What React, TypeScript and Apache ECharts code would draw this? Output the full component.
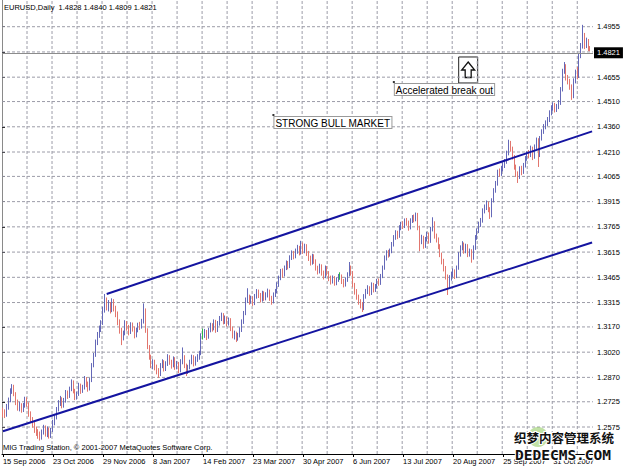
import React, { useEffect, useRef } from 'react';
import * as echarts from 'echarts';

const symbolTitle = 'EURUSD,Daily';
const lastBarValues = ['1.4828', '1.4840', '1.4809', '1.4821'];
const currentPrice = 1.4821;
const copyrightText = 'MIG Trading Station, \u00a9 2001-2007 MetaQuotes Software Corp.';

const xTickLabels = [
  '15 Sep 2006', '23 Oct 2006', '29 Nov 2006', '8 Jan 2007', '14 Feb 2007', '23 Mar 2007',
  '30 Apr 2007', '6 Jun 2007', '13 Jul 2007', '20 Aug 2007', '25 Sep 2007', '31 Oct 2007',
];
const barsPerXLabel = 27;
const barsPerVGrid = 13.5;
const totalSlots = 319;

const yTickValues = [
  1.2575, 1.2725, 1.287, 1.302, 1.317, 1.3315, 1.3465, 1.3615, 1.3765, 1.3915,
  1.4065, 1.421, 1.436, 1.451, 1.4655, 1.4805, 1.4955,
];
const yTickLabels = [
  '1.2575', '1.2725', '1.2870', '1.3020', '1.3170', '1.3315', '1.3465', '1.3615', '1.3765', '1.3915',
  '1.4065', '1.4210', '1.4360', '1.4510', '1.4655', '', '1.4955',
];
const yMin = 1.24145;
const yMax = 1.51138;

// [open, close, low, high] per daily bar
const ohlc: number[][] = [
  [1.2680, 1.2660, 1.2632, 1.2690], [1.2660, 1.2645, 1.2628, 1.2680], [1.2645, 1.2690, 1.2636, 1.2712],
  [1.2690, 1.2735, 1.2678, 1.2750], [1.2735, 1.2790, 1.2722, 1.2805], [1.2790, 1.2815, 1.2772, 1.2830],
  [1.2815, 1.2770, 1.2758, 1.2826], [1.2770, 1.2720, 1.2705, 1.2782], [1.2720, 1.2690, 1.2672, 1.2738],
  [1.2690, 1.2705, 1.2668, 1.2725], [1.2705, 1.2680, 1.2660, 1.2716], [1.2680, 1.2700, 1.2664, 1.2718],
  [1.2700, 1.2740, 1.2690, 1.2755], [1.2740, 1.2710, 1.2695, 1.2752], [1.2710, 1.2650, 1.2636, 1.2722],
  [1.2650, 1.2620, 1.2602, 1.2668], [1.2620, 1.2590, 1.2571, 1.2634], [1.2590, 1.2560, 1.2540, 1.2605],
  [1.2560, 1.2540, 1.2522, 1.2578], [1.2540, 1.2520, 1.2505, 1.2562], [1.2520, 1.2510, 1.2494, 1.2548],
  [1.2510, 1.2545, 1.2500, 1.2560], [1.2545, 1.2570, 1.2530, 1.2588], [1.2570, 1.2530, 1.2518, 1.2584],
  [1.2530, 1.2560, 1.2515, 1.2578], [1.2560, 1.2520, 1.2506, 1.2572], [1.2520, 1.2555, 1.2510, 1.2570],
  [1.2555, 1.2600, 1.2545, 1.2618], [1.2600, 1.2630, 1.2585, 1.2645], [1.2630, 1.2680, 1.2620, 1.2694],
  [1.2680, 1.2720, 1.2668, 1.2735], [1.2720, 1.2740, 1.2700, 1.2760], [1.2740, 1.2700, 1.2686, 1.2752],
  [1.2700, 1.2730, 1.2690, 1.2748], [1.2730, 1.2780, 1.2720, 1.2795], [1.2780, 1.2760, 1.2742, 1.2792],
  [1.2760, 1.2800, 1.2748, 1.2815], [1.2800, 1.2840, 1.2788, 1.2858], [1.2840, 1.2790, 1.2775, 1.2852],
  [1.2790, 1.2750, 1.2735, 1.2802], [1.2750, 1.2770, 1.2738, 1.2785], [1.2770, 1.2820, 1.2760, 1.2838],
  [1.2820, 1.2790, 1.2772, 1.2833], [1.2790, 1.2810, 1.2778, 1.2826], [1.2810, 1.2860, 1.2798, 1.2878],
  [1.2860, 1.2830, 1.2812, 1.2872], [1.2830, 1.2800, 1.2785, 1.2845], [1.2800, 1.2850, 1.2792, 1.2866],
  [1.2850, 1.2940, 1.2842, 1.2955], [1.2940, 1.3000, 1.2930, 1.3015], [1.3000, 1.3080, 1.2992, 1.3095],
  [1.3080, 1.3120, 1.3062, 1.3140], [1.3120, 1.3160, 1.3105, 1.3178], [1.3160, 1.3190, 1.3140, 1.3210],
  [1.3190, 1.3270, 1.3182, 1.3290], [1.3270, 1.3320, 1.3255, 1.3366], [1.3320, 1.3290, 1.3268, 1.3345],
  [1.3290, 1.3300, 1.3262, 1.3330], [1.3300, 1.3270, 1.3250, 1.3318], [1.3270, 1.3320, 1.3258, 1.3340],
  [1.3320, 1.3280, 1.3262, 1.3335], [1.3280, 1.3250, 1.3228, 1.3296], [1.3250, 1.3200, 1.3180, 1.3262],
  [1.3200, 1.3150, 1.3130, 1.3215], [1.3150, 1.3110, 1.3062, 1.3165], [1.3110, 1.3130, 1.3090, 1.3148],
  [1.3130, 1.3190, 1.3120, 1.3210], [1.3190, 1.3170, 1.3148, 1.3205], [1.3170, 1.3140, 1.3120, 1.3182],
  [1.3140, 1.3180, 1.3128, 1.3198], [1.3180, 1.3160, 1.3142, 1.3196], [1.3160, 1.3120, 1.3102, 1.3172],
  [1.3120, 1.3150, 1.3108, 1.3166], [1.3150, 1.3180, 1.3138, 1.3195], [1.3180, 1.3170, 1.3152, 1.3200],
  [1.3170, 1.3200, 1.3160, 1.3218], [1.3200, 1.3270, 1.3190, 1.3310], [1.3270, 1.3150, 1.3135, 1.3280],
  [1.3150, 1.3050, 1.3038, 1.3162], [1.3050, 1.2990, 1.2975, 1.3062], [1.2990, 1.2940, 1.2925, 1.3005],
  [1.2940, 1.2960, 1.2918, 1.2978], [1.2960, 1.2930, 1.2912, 1.2975], [1.2930, 1.2910, 1.2888, 1.2946],
  [1.2910, 1.2890, 1.2866, 1.2925], [1.2890, 1.2940, 1.2878, 1.2955], [1.2940, 1.2960, 1.2925, 1.2978],
  [1.2960, 1.2920, 1.2905, 1.2972], [1.2920, 1.2950, 1.2908, 1.2966], [1.2950, 1.2990, 1.2938, 1.3008],
  [1.2990, 1.2960, 1.2945, 1.3002], [1.2960, 1.2940, 1.2922, 1.2975], [1.2940, 1.2980, 1.2930, 1.2995],
  [1.2980, 1.2930, 1.2915, 1.2990], [1.2930, 1.2950, 1.2918, 1.2968], [1.2950, 1.2910, 1.2895, 1.2962],
  [1.2910, 1.2960, 1.2900, 1.2978], [1.2960, 1.2990, 1.2948, 1.3048], [1.2990, 1.2940, 1.2925, 1.3002],
  [1.2940, 1.2900, 1.2878, 1.2952], [1.2900, 1.2930, 1.2890, 1.2945], [1.2930, 1.2960, 1.2918, 1.2975],
  [1.2960, 1.2990, 1.2948, 1.3005], [1.2990, 1.2950, 1.2935, 1.3002], [1.2950, 1.2980, 1.2940, 1.2995],
  [1.2980, 1.2990, 1.2962, 1.3008], [1.2990, 1.3010, 1.2975, 1.3028], [1.3010, 1.3120, 1.3002, 1.3132],
  [1.3120, 1.3120, 1.3095, 1.3160], [1.3120, 1.3140, 1.3105, 1.3158], [1.3140, 1.3110, 1.3092, 1.3152],
  [1.3110, 1.3150, 1.3100, 1.3165], [1.3150, 1.3180, 1.3138, 1.3195], [1.3180, 1.3160, 1.3142, 1.3192],
  [1.3160, 1.3200, 1.3150, 1.3215], [1.3200, 1.3150, 1.3135, 1.3212], [1.3150, 1.3190, 1.3140, 1.3205],
  [1.3190, 1.3220, 1.3178, 1.3235], [1.3220, 1.3240, 1.3205, 1.3255], [1.3240, 1.3200, 1.3185, 1.3252],
  [1.3200, 1.3220, 1.3188, 1.3238], [1.3220, 1.3190, 1.3172, 1.3232], [1.3190, 1.3210, 1.3178, 1.3226],
  [1.3210, 1.3160, 1.3145, 1.3222], [1.3160, 1.3120, 1.3102, 1.3172], [1.3120, 1.3130, 1.3095, 1.3148],
  [1.3130, 1.3100, 1.3080, 1.3142], [1.3100, 1.3120, 1.3088, 1.3135], [1.3120, 1.3150, 1.3108, 1.3168],
  [1.3150, 1.3200, 1.3140, 1.3215], [1.3200, 1.3250, 1.3188, 1.3265], [1.3250, 1.3330, 1.3240, 1.3345],
  [1.3330, 1.3350, 1.3312, 1.3400], [1.3350, 1.3320, 1.3302, 1.3362], [1.3320, 1.3340, 1.3308, 1.3356],
  [1.3340, 1.3310, 1.3295, 1.3352], [1.3310, 1.3350, 1.3300, 1.3366], [1.3350, 1.3380, 1.3338, 1.3395],
  [1.3380, 1.3360, 1.3342, 1.3392], [1.3360, 1.3330, 1.3315, 1.3372], [1.3330, 1.3370, 1.3320, 1.3385],
  [1.3370, 1.3340, 1.3325, 1.3382], [1.3340, 1.3360, 1.3328, 1.3376], [1.3360, 1.3380, 1.3345, 1.3398],
  [1.3380, 1.3340, 1.3325, 1.3392], [1.3340, 1.3320, 1.3302, 1.3355], [1.3320, 1.3360, 1.3310, 1.3375],
  [1.3360, 1.3380, 1.3348, 1.3396], [1.3380, 1.3420, 1.3370, 1.3436], [1.3420, 1.3460, 1.3408, 1.3475],
  [1.3460, 1.3500, 1.3448, 1.3515], [1.3500, 1.3480, 1.3462, 1.3518], [1.3480, 1.3520, 1.3470, 1.3535],
  [1.3520, 1.3550, 1.3508, 1.3565], [1.3550, 1.3530, 1.3512, 1.3562], [1.3530, 1.3580, 1.3520, 1.3596],
  [1.3580, 1.3610, 1.3568, 1.3625], [1.3610, 1.3590, 1.3572, 1.3622], [1.3590, 1.3620, 1.3578, 1.3636],
  [1.3620, 1.3640, 1.3605, 1.3658], [1.3640, 1.3610, 1.3595, 1.3652], [1.3610, 1.3660, 1.3600, 1.3682],
  [1.3660, 1.3620, 1.3605, 1.3672], [1.3620, 1.3650, 1.3608, 1.3665], [1.3650, 1.3610, 1.3592, 1.3662],
  [1.3610, 1.3580, 1.3562, 1.3622], [1.3580, 1.3550, 1.3535, 1.3594], [1.3550, 1.3590, 1.3540, 1.3605],
  [1.3590, 1.3560, 1.3545, 1.3602], [1.3560, 1.3520, 1.3505, 1.3572], [1.3520, 1.3500, 1.3482, 1.3534],
  [1.3500, 1.3530, 1.3488, 1.3546], [1.3530, 1.3490, 1.3475, 1.3542], [1.3490, 1.3470, 1.3452, 1.3505],
  [1.3470, 1.3520, 1.3460, 1.3535], [1.3520, 1.3490, 1.3475, 1.3532], [1.3490, 1.3460, 1.3442, 1.3502],
  [1.3460, 1.3440, 1.3422, 1.3475], [1.3440, 1.3460, 1.3428, 1.3476], [1.3460, 1.3430, 1.3415, 1.3472],
  [1.3430, 1.3450, 1.3418, 1.3465], [1.3450, 1.3470, 1.3438, 1.3485], [1.3470, 1.3470, 1.3450, 1.3495],
  [1.3470, 1.3440, 1.3425, 1.3482], [1.3440, 1.3420, 1.3405, 1.3455], [1.3420, 1.3450, 1.3410, 1.3465],
  [1.3450, 1.3480, 1.3438, 1.3495], [1.3480, 1.3520, 1.3470, 1.3556], [1.3520, 1.3490, 1.3475, 1.3535],
  [1.3490, 1.3420, 1.3405, 1.3502], [1.3420, 1.3380, 1.3362, 1.3432], [1.3380, 1.3350, 1.3332, 1.3395],
  [1.3350, 1.3320, 1.3302, 1.3362], [1.3320, 1.3300, 1.3280, 1.3335], [1.3300, 1.3280, 1.3259, 1.3318],
  [1.3280, 1.3350, 1.3270, 1.3365], [1.3350, 1.3380, 1.3338, 1.3396], [1.3380, 1.3400, 1.3365, 1.3418],
  [1.3400, 1.3370, 1.3355, 1.3412], [1.3370, 1.3420, 1.3360, 1.3435], [1.3420, 1.3390, 1.3375, 1.3432],
  [1.3390, 1.3410, 1.3378, 1.3425], [1.3410, 1.3440, 1.3398, 1.3455], [1.3440, 1.3430, 1.3415, 1.3458],
  [1.3430, 1.3470, 1.3420, 1.3485], [1.3470, 1.3520, 1.3460, 1.3535], [1.3520, 1.3580, 1.3510, 1.3595],
  [1.3580, 1.3610, 1.3565, 1.3626], [1.3610, 1.3600, 1.3582, 1.3628], [1.3600, 1.3620, 1.3588, 1.3636],
  [1.3620, 1.3660, 1.3608, 1.3675], [1.3660, 1.3700, 1.3648, 1.3716], [1.3700, 1.3730, 1.3688, 1.3745],
  [1.3730, 1.3710, 1.3692, 1.3742], [1.3710, 1.3760, 1.3700, 1.3775], [1.3760, 1.3780, 1.3745, 1.3795],
  [1.3780, 1.3770, 1.3752, 1.3798], [1.3770, 1.3800, 1.3758, 1.3815], [1.3800, 1.3790, 1.3772, 1.3818],
  [1.3790, 1.3760, 1.3742, 1.3802], [1.3760, 1.3800, 1.3750, 1.3816], [1.3800, 1.3820, 1.3788, 1.3835],
  [1.3820, 1.3810, 1.3792, 1.3838], [1.3810, 1.3840, 1.3798, 1.3850], [1.3840, 1.3760, 1.3745, 1.3848],
  [1.3760, 1.3680, 1.3620, 1.3772], [1.3680, 1.3700, 1.3662, 1.3718], [1.3700, 1.3650, 1.3635, 1.3712],
  [1.3650, 1.3690, 1.3640, 1.3705], [1.3690, 1.3720, 1.3678, 1.3736], [1.3720, 1.3680, 1.3665, 1.3732],
  [1.3680, 1.3750, 1.3670, 1.3765], [1.3750, 1.3790, 1.3738, 1.3822], [1.3790, 1.3710, 1.3695, 1.3798],
  [1.3710, 1.3690, 1.3672, 1.3725], [1.3690, 1.3650, 1.3632, 1.3702], [1.3650, 1.3600, 1.3585, 1.3662],
  [1.3600, 1.3560, 1.3542, 1.3612], [1.3560, 1.3520, 1.3500, 1.3575], [1.3520, 1.3470, 1.3452, 1.3532],
  [1.3470, 1.3420, 1.3360, 1.3482], [1.3420, 1.3460, 1.3405, 1.3478], [1.3460, 1.3480, 1.3445, 1.3498],
  [1.3480, 1.3500, 1.3465, 1.3518], [1.3500, 1.3470, 1.3455, 1.3512], [1.3470, 1.3520, 1.3460, 1.3535],
  [1.3520, 1.3600, 1.3510, 1.3615], [1.3600, 1.3640, 1.3588, 1.3655], [1.3640, 1.3660, 1.3625, 1.3680],
  [1.3660, 1.3620, 1.3605, 1.3672], [1.3620, 1.3650, 1.3608, 1.3665], [1.3650, 1.3600, 1.3585, 1.3662],
  [1.3600, 1.3620, 1.3588, 1.3636], [1.3620, 1.3580, 1.3552, 1.3632], [1.3580, 1.3640, 1.3570, 1.3655],
  [1.3640, 1.3700, 1.3628, 1.3716], [1.3700, 1.3740, 1.3688, 1.3756], [1.3740, 1.3780, 1.3728, 1.3796],
  [1.3780, 1.3800, 1.3765, 1.3818], [1.3800, 1.3860, 1.3790, 1.3875], [1.3860, 1.3880, 1.3845, 1.3898],
  [1.3880, 1.3900, 1.3865, 1.3922], [1.3900, 1.3870, 1.3852, 1.3915], [1.3870, 1.3830, 1.3812, 1.3882],
  [1.3830, 1.3920, 1.3822, 1.3935], [1.3920, 1.3980, 1.3910, 1.3995], [1.3980, 1.4020, 1.3968, 1.4038],
  [1.4020, 1.4090, 1.4010, 1.4105], [1.4090, 1.4080, 1.4062, 1.4112], [1.4080, 1.4110, 1.4068, 1.4128],
  [1.4110, 1.4130, 1.4095, 1.4148], [1.4130, 1.4150, 1.4115, 1.4168], [1.4150, 1.4200, 1.4140, 1.4218],
  [1.4200, 1.4260, 1.4190, 1.4283], [1.4260, 1.4230, 1.4212, 1.4276], [1.4230, 1.4180, 1.4165, 1.4242],
  [1.4180, 1.4120, 1.4105, 1.4192], [1.4120, 1.4080, 1.4062, 1.4135], [1.4080, 1.4060, 1.4026, 1.4095],
  [1.4060, 1.4110, 1.4050, 1.4125], [1.4110, 1.4090, 1.4072, 1.4128], [1.4090, 1.4130, 1.4080, 1.4145],
  [1.4130, 1.4170, 1.4118, 1.4186], [1.4170, 1.4200, 1.4158, 1.4215], [1.4200, 1.4190, 1.4172, 1.4222],
  [1.4190, 1.4230, 1.4180, 1.4248], [1.4230, 1.4180, 1.4162, 1.4242], [1.4180, 1.4240, 1.4170, 1.4255],
  [1.4240, 1.4280, 1.4228, 1.4296], [1.4280, 1.4190, 1.4121, 1.4292], [1.4190, 1.4290, 1.4180, 1.4305],
  [1.4290, 1.4330, 1.4278, 1.4345], [1.4330, 1.4360, 1.4318, 1.4376], [1.4360, 1.4380, 1.4345, 1.4398],
  [1.4380, 1.4400, 1.4365, 1.4418], [1.4400, 1.4440, 1.4388, 1.4458], [1.4440, 1.4470, 1.4428, 1.4488],
  [1.4470, 1.4490, 1.4455, 1.4505], [1.4490, 1.4460, 1.4445, 1.4502], [1.4460, 1.4480, 1.4448, 1.4496],
  [1.4480, 1.4500, 1.4465, 1.4519], [1.4500, 1.4580, 1.4490, 1.4596], [1.4580, 1.4690, 1.4570, 1.4705],
  [1.4690, 1.4720, 1.4675, 1.4745], [1.4720, 1.4650, 1.4635, 1.4732], [1.4650, 1.4630, 1.4612, 1.4668],
  [1.4630, 1.4600, 1.4580, 1.4645], [1.4600, 1.4540, 1.4520, 1.4612], [1.4540, 1.4630, 1.4530, 1.4648],
  [1.4630, 1.4680, 1.4618, 1.4700], [1.4680, 1.4660, 1.4642, 1.4716], [1.4660, 1.4780, 1.4650, 1.4795],
  [1.4780, 1.4840, 1.4768, 1.4858], [1.4840, 1.4880, 1.4825, 1.4966], [1.4880, 1.4840, 1.4822, 1.4918],
  [1.4840, 1.4870, 1.4828, 1.4890], [1.4870, 1.4828, 1.4810, 1.4882], [1.4828, 1.4821, 1.4809, 1.4840],
];

// trend channel anchor points: [bar index, price]
const upperChannel = [[56, 1.3366], [318, 1.4333]];
const lowerChannel = [[0, 1.2550], [318, 1.3672]];

const textNotes = [
  { text: 'STRONG BULL MARKET', bar: 146.3, price: 1.443 },
  { text: 'Accelerated break out', bar: 211.1, price: 1.4626 },
];
const arrowNote = { bar: 245.6, price: 1.4775 };

const FONT = 'Liberation Sans';
const GRID_LINE = { color: '#9c9ca8', type: [3, 2], width: 1 };

export default function App() {
  const ref = useRef<HTMLDivElement>(null);
  useEffect(() => {
    if (!ref.current) return;
    const chart = echarts.init(ref.current, null, { renderer: 'svg' });
    const categories = Array.from({ length: totalSlots }, (_, i) => 'b' + i);

    const vGridValues: number[] = [];
    for (let k = 1; k * barsPerVGrid < totalSlots; k++) vGridValues.push(k * barsPerVGrid);

    const hGridSeries = yTickValues.map((v) => ({
      type: 'line',
      xAxisIndex: 1,
      yAxisIndex: 0,
      data: [[0, v], [totalSlots, v]],
      symbol: 'none',
      silent: true,
      z: 1,
      lineStyle: GRID_LINE,
    }));
    const vGridSeries = vGridValues.map((v) => ({
      type: 'line',
      xAxisIndex: 1,
      yAxisIndex: 0,
      data: [[v, yMin], [v, yMax]],
      symbol: 'none',
      silent: true,
      z: 1,
      lineStyle: GRID_LINE,
    }));

    chart.setOption({
      animation: false,
      backgroundColor: '#ffffff',
      textStyle: { fontFamily: FONT },
      grid: { left: 2, right: 31, top: 0, bottom: 14, containLabel: false, outerBoundsMode: 'none' } as any,
      xAxis: [
        {
          type: 'category',
          data: categories,
          boundaryGap: true,
          position: 'bottom',
          axisLine: { show: true, lineStyle: { color: '#000', width: 1 } },
          axisTick: { show: true, interval: barsPerXLabel - 1, alignWithLabel: true, length: 3, lineStyle: { color: '#000' } },
          axisLabel: {
            show: true,
            interval: barsPerXLabel - 1,
            align: 'left',
            margin: 3,
            fontSize: 7.5,
            color: '#000',
            fontFamily: FONT,
            formatter: (_v: string, idx: number) => xTickLabels[Math.round(idx / barsPerXLabel)] ?? '',
          },
          splitLine: { show: false },
        },
        {
          type: 'value',
          min: 0,
          max: totalSlots,
          position: 'top',
          axisLine: { show: false },
          axisTick: { show: false },
          axisLabel: { show: false },
          splitLine: { show: false },
        },
      ],
      yAxis: [
        {
          type: 'value',
          position: 'right',
          min: yMin,
          max: yMax,
          axisLine: { show: true, lineStyle: { color: '#000', width: 1 } },
          axisTick: { show: true, length: 3, customValues: yTickValues, lineStyle: { color: '#000' } },
          axisLabel: {
            show: true,
            customValues: yTickValues,
            margin: 4,
            fontSize: 7.5,
            color: '#000',
            fontFamily: FONT,
            formatter: (v: number) => {
              const k = yTickValues.findIndex((t) => Math.abs(t - v) < 1e-6);
              return k >= 0 ? yTickLabels[k] : '';
            },
          },
          splitLine: { show: false },
        },
        {
          type: 'value',
          position: 'left',
          min: yMin,
          max: yMax,
          axisLine: { show: true, lineStyle: { color: '#8a8a8a', width: 1 } },
          axisTick: { show: false },
          axisLabel: { show: false },
          splitLine: { show: false },
        },
      ],
      series: [
        ...hGridSeries,
        ...vGridSeries,
        {
          type: 'candlestick',
          name: 'EURUSD',
          data: ohlc,
          barWidth: 1.2,
          z: 3,
          itemStyle: {
            color: '#6569b8',
            color0: '#e2766e',
            borderColor: '#6569b8',
            borderColor0: '#e2766e',
            borderColorDoji: '#2fb84a',
            borderWidth: 1,
          },
          markLine: {
            silent: true,
            symbol: ['none', 'none'],
            lineStyle: { color: '#8c8c8c', type: 'solid', width: 1 },
            label: {
              show: true,
              position: 'end',
              distance: 1,
              formatter: () => currentPrice.toFixed(4),
              color: '#ffffff',
              backgroundColor: '#000000',
              padding: [2, 3, 1, 3],
              fontSize: 7.5,
              fontFamily: FONT,
            },
            data: [{ yAxis: currentPrice }],
          },
        },
        {
          type: 'line',
          name: 'upper channel',
          data: upperChannel,
          symbol: 'none',
          z: 4,
          silent: true,
          lineStyle: { color: '#1414a0', width: 2 },
        },
        {
          type: 'line',
          name: 'lower channel',
          data: lowerChannel,
          symbol: 'none',
          z: 4,
          silent: true,
          lineStyle: { color: '#1414a0', width: 2 },
        },
      ],
    });

    const px = (bar: number, price: number) =>
      chart.convertToPixel({ xAxisIndex: 0, yAxisIndex: 0 }, [bar, price]) as number[];

    const graphics: any[] = [
      {
        type: 'text',
        x: 4,
        y: 3,
        z: 20,
        style: {
          text: symbolTitle + '  ' + lastBarValues.join(' '),
          fontSize: 7.5,
          fontFamily: FONT,
          fill: '#000',
          align: 'left',
          verticalAlign: 'top',
        },
      },
      {
        type: 'text',
        x: 3,
        y: 443,
        z: 20,
        style: {
          text: copyrightText,
          fontSize: 7.5,
          fontFamily: FONT,
          fill: '#000',
          align: 'left',
          verticalAlign: 'top',
        },
      },
    ];

    textNotes.forEach((n) => {
      const [ax, ay] = px(n.bar, n.price);
      graphics.push({
        type: 'rect',
        z: 20,
        shape: { x: ax - 1, y: ay - 1, width: 2, height: 2 },
        style: { fill: '#333' },
      });
      graphics.push({
        type: 'text',
        x: ax + 1,
        y: ay + 2,
        z: 20,
        style: {
          text: n.text,
          fontSize: 10,
          fontFamily: FONT,
          fill: '#000',
          align: 'left',
          verticalAlign: 'top',
          backgroundColor: '#ffffff',
          borderColor: '#9a9a9a',
          borderWidth: 1,
          padding: [1, 1, 0, 1],
        },
      });
    });

    const [arx, ary] = px(arrowNote.bar, arrowNote.price);
    graphics.push({
      type: 'group',
      x: arx,
      y: ary,
      z: 20,
      children: [
        {
          type: 'rect',
          shape: { x: 0, y: 0, width: 19, height: 26 },
          style: { fill: '#ffffff', stroke: '#222', lineWidth: 1 },
        },
        {
          type: 'polygon',
          shape: { points: [[9.5, 5], [16, 13], [12.5, 13], [12.5, 20.5], [6.5, 20.5], [6.5, 13], [3, 13]] },
          style: { fill: '#ffffff', stroke: '#111', lineWidth: 1.3 },
        },
      ],
    });

    // source watermark
    graphics.push({
      type: 'circle',
      z: 21,
      shape: { cx: 538, cy: 437, r: 10 },
      style: { fill: 'rgba(140,200,90,0.55)' },
    });
    graphics.push({
      type: 'text',
      x: 514,
      y: 431,
      z: 22,
      style: {
        text: '织梦内容管理系统',
        fontSize: 12.5,
        fontWeight: 'bold',
        fontFamily: 'Noto Sans CJK SC',
        fill: '#111',
        stroke: '#ffffff',
        lineWidth: 2,
        align: 'left',
        verticalAlign: 'top',
      },
    });
    graphics.push({
      type: 'text',
      x: 515,
      y: 447,
      z: 22,
      style: {
        text: 'DEDECMS.COM',
        fontSize: 14.5,
        fontWeight: 'bold',
        fontFamily: 'DejaVu Sans Mono',
        fill: '#111',
        stroke: '#ffffff',
        lineWidth: 2,
        align: 'left',
        verticalAlign: 'top',
      },
    });

    chart.setOption({ graphic: graphics });

    return () => chart.dispose();
  }, []);

  return (
    <div
      ref={ref}
      style={{ position: 'fixed', left: 0, top: 0, width: 624, height: 468, background: '#fff' }}
    />
  );
}
